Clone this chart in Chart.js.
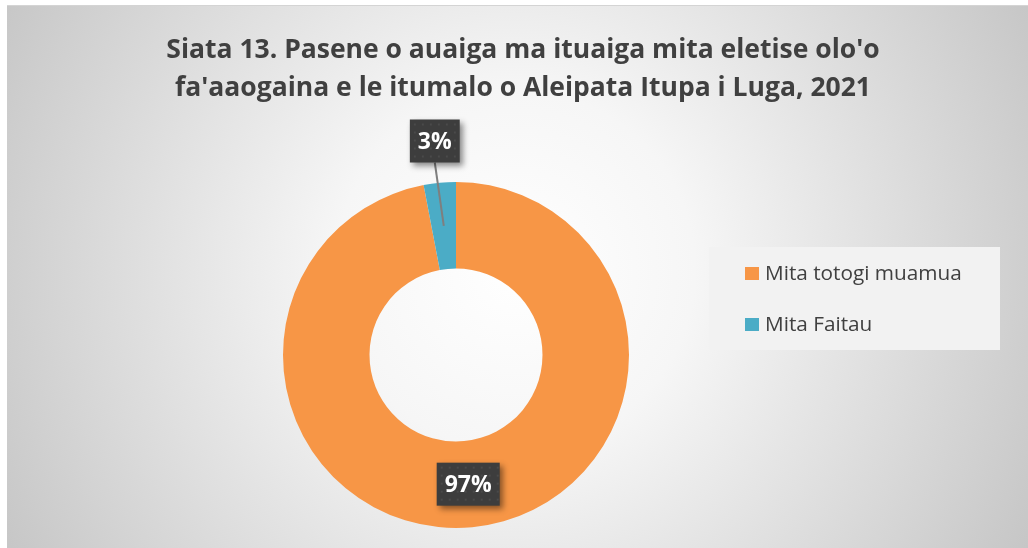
<!DOCTYPE html>
<html>
<head>
<meta charset="utf-8">
<script src="https://cdn.jsdelivr.net/npm/chart.js@4/dist/chart.umd.min.js"></script>
<style>
  html, body { margin: 0; padding: 0; background: #fff; }
  #wrap { width: 1028px; height: 548px; position: relative; }
</style>
</head>
<body>
<div id="wrap"><canvas id="mainChart" width="1028" height="548"></canvas></div>
<script>
// Datos
const titleLines = ["Siata 13. Pasene o auaiga ma ituaiga mita eletise olo'o",
                    "fa'aaogaina e le itumalo o Aleipata Itupa i Luga, 2021"];
const categories = ['Mita totogi muamua', 'Mita Faitau'];
const values = [97, 3];
const colors = ['#f79646', '#4bacc6'];

// Ajusta el tamaño de fuente al ancho deseado
function fitFont(ctx, text, weight, target) {
    let size = 30;
    ctx.font = `${weight} ${size}px 'Open Sans'`;
    while (ctx.measureText(text).width > target && size > 8) {
        size -= 0.25;
        ctx.font = `${weight} ${size}px 'Open Sans'`;
    }
    return size;
}

// Fondo con degradado radial
const bgPlugin = {
    id: 'bg',
    beforeDraw(chart) {
        const ctx = chart.ctx;
        ctx.save();
        const g = ctx.createRadialGradient(515, 270, 0, 515, 270, 600);
        g.addColorStop(0, '#ffffff');
        g.addColorStop(0.3, '#f6f6f6');
        g.addColorStop(1, '#c4c4c4');
        ctx.fillStyle = g;
        ctx.fillRect(7, 5, 1021, 543);
        ctx.fillStyle = '#d4d4d4';
        ctx.fillRect(7, 5, 1021, 1);

        // Titulo
        ctx.fillStyle = '#404040';
        fitFont(ctx, titleLines[0], 'bold', 717);
        ctx.textAlign = 'center';
        ctx.textBaseline = 'alphabetic';
        titleLines.forEach((t, i) => {
            ctx.fillText(t, 523, 58 + i * 38);
        });

        // Leyenda
        ctx.fillStyle = '#f2f2f2';
        ctx.fillRect(709, 247, 291, 103);
        fitFont(ctx, categories[0], 'normal', 198);
        ctx.textAlign = 'left';
        ctx.textBaseline = 'middle';
        categories.forEach((c, i) => {
            const y = 273 + i * 51;
            ctx.fillStyle = colors[i];
            ctx.fillRect(745, y - 6, 14, 13);
            ctx.fillStyle = '#404040';
            ctx.fillText(c, 765, y + 1);
        });
        ctx.restore();
    }
};

// Etiquetas de datos
const labelPlugin = {
    id: 'labels',
    afterDatasetsDraw(chart) {
        const ctx = chart.ctx;
        const meta = chart.getDatasetMeta(0);
        const total = values.reduce((a, b) => a + b, 0);
        meta.data.forEach((arc, i) => {
            const mid = (arc.startAngle + arc.endAngle) / 2;
            const r = (arc.innerRadius + arc.outerRadius) / 2;
            const px = arc.x + Math.cos(mid) * r;
            const py = arc.y + Math.sin(mid) * r;
            let bx = px, by = py;
            const text = Math.round(values[i] / total * 100) + '%';
            ctx.save();
            ctx.font = "bold 23px 'Open Sans'";
            const w = ctx.measureText(text).width + 16;
            const h = 43;
            if (values[i] / total < 0.1) {
                bx = px - 9;
                by = arc.y - arc.outerRadius - 41;
                ctx.strokeStyle = '#7f7f7f';
                ctx.lineWidth = 2;
                ctx.beginPath();
                ctx.moveTo(px, py);
                ctx.lineTo(bx, by + h / 2);
                ctx.stroke();
            }
            ctx.shadowColor = 'rgba(0,0,0,0.45)';
            ctx.shadowBlur = 6;
            ctx.shadowOffsetX = 3;
            ctx.shadowOffsetY = 3;
            ctx.fillStyle = '#3d3d3d';
            ctx.fillRect(bx - w / 2, by - h / 2, w, h);
            ctx.shadowColor = 'transparent';
            ctx.fillStyle = '#4a4a4a';
            for (let x = bx - w / 2 + 4; x < bx + w / 2; x += 8) {
                for (let y = by - h / 2 + 4; y < by + h / 2; y += 8) {
                    ctx.fillRect(x, y, 2, 2);
                }
            }
            ctx.fillStyle = '#ffffff';
            ctx.textAlign = 'center';
            ctx.textBaseline = 'middle';
            ctx.fillText(text, bx, by + 1);
            ctx.restore();
        });
    }
};

const ctx = document.getElementById('mainChart').getContext('2d');
new Chart(ctx, {
    type: 'doughnut',
    data: {
        labels: categories,
        datasets: [{
            data: values,
            backgroundColor: colors,
            borderWidth: 0
        }]
    },
    options: {
        responsive: false,
        animation: false,
        cutout: '50%',
        layout: { padding: { left: 283, right: 399, top: 182, bottom: 20 } },
        plugins: {
            legend: { display: false },
            tooltip: { enabled: false }
        }
    },
    plugins: [bgPlugin, labelPlugin]
});
</script>
</body>
</html>
